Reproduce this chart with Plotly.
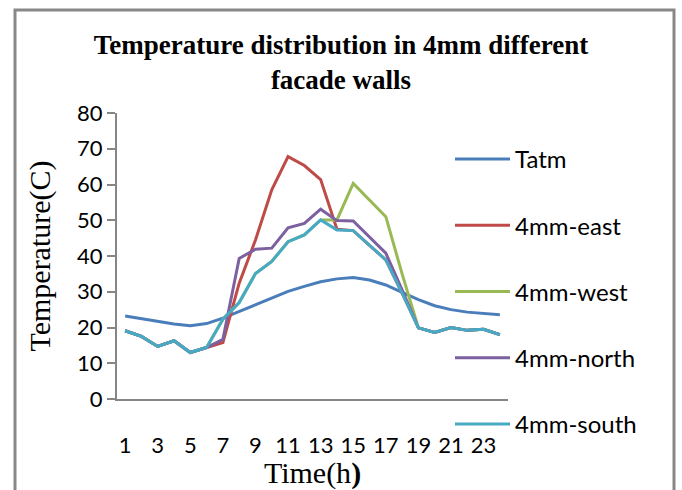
import plotly.graph_objects as go

hours = list(range(1, 25))
tatm = [23.2, 22.4, 21.7, 21.0, 20.5, 21.1, 22.6, 24.5, 26.5, 28.4, 30.1, 31.5,
        32.8, 33.6, 34.0, 33.3, 31.9, 29.8, 27.8, 26.1, 25.0, 24.3, 24.0, 23.6]
east = [19.1, 17.5, 14.7, 16.3, 13.0, 14.4, 15.8, 32.4, 44.5, 58.5, 67.8, 65.3,
        61.4, 47.5, 47.1, 43.0, 38.9, 29.6, 19.9, 18.6, 20.0, 19.2, 19.5, 18.0]
west = [19.1, 17.5, 14.7, 16.3, 13.0, 14.4, 22.3, 27.0, 35.1, 38.5, 44.0, 45.9,
        50.1, 50.1, 60.3, 55.7, 51.0, 35.0, 19.9, 18.6, 20.0, 19.2, 19.5, 18.0]
north = [19.1, 17.5, 14.7, 16.3, 13.0, 14.4, 16.7, 39.3, 41.9, 42.2, 47.9, 49.1,
         53.1, 49.9, 49.8, 45.2, 40.8, 30.5, 19.9, 18.6, 20.0, 19.2, 19.5, 18.0]
south = [19.1, 17.5, 14.7, 16.3, 13.0, 14.4, 22.3, 27.0, 35.1, 38.5, 44.0, 45.9,
         50.1, 47.3, 47.1, 43.0, 38.9, 29.6, 19.9, 18.6, 20.0, 19.2, 19.5, 18.0]

series_names = ["Tatm", "4mm-east", "4mm-west", "4mm-north", "4mm-south"]
series_values = [tatm, east, west, north, south]
colors = ["#4A7EBB", "#BE4B48", "#98B954", "#7D60A0", "#46AAC5"]
x_tick_vals = list(range(1, 25, 2))
y_tick_vals = list(range(0, 90, 10))

W, H = 682, 490
L, R, T, B = 117, 508, 113, 399  # plot area in pixels


def px(x):
    return (x - L) / (R - L)


def py(y):
    return (B - y) / (B - T)


fig = go.Figure()
for i, (name, vals, c) in enumerate(zip(series_names, series_values, colors)):
    fig.add_trace(go.Scatter(x=hours, y=vals, mode="lines", name=name,
                             line=dict(color=c, width=3), legendgroup=str(i)))

fig.update_layout(
    width=W, height=H,
    margin=dict(l=L, r=W - R, t=T, b=H - B, autoexpand=False),
    paper_bgcolor="white", plot_bgcolor="white",
    font=dict(family="Lato", color="black"),
    title=dict(text="Temperature distribution in 4mm different<br>facade walls",
               x=0.5, xref="container", xanchor="center",
               y=1 - 54 / H, yanchor="middle",
               font=dict(family="Liberation Serif", size=27, color="black",
                         weight="bold")),
    legend=dict(x=(450) / W, y=1 - 137 / H, xref="container", yref="container",
                xanchor="left", yanchor="top", maxheight=460, itemwidth=55,
                font=dict(family="Lato", size=24, color="black"),
                tracegroupgap=32, bgcolor="rgba(0,0,0,0)"),
    xaxis=dict(range=[0.5, 24.5], tickmode="array", tickvals=x_tick_vals,
               ticktext=[str(v) for v in x_tick_vals], showgrid=False,
               zeroline=False, showline=True, linecolor="#868686", linewidth=2,
               ticks="", ticklabelstandoff=26,
               tickfont=dict(family="Lato", size=22, color="black"),
               title=dict(text="Time(h<b>)</b>", standoff=17,
                          font=dict(family="Liberation Serif", size=30,
                                    color="black"))),
    yaxis=dict(range=[0, 80], tickmode="array", tickvals=y_tick_vals,
               showgrid=False, zeroline=False, showline=True,
               linecolor="#868686", linewidth=2, ticks="outside", ticklen=8,
               tickcolor="#868686", tickwidth=2,
               tickfont=dict(family="Lato", size=22, color="black"),
               title=dict(text="Temperature(C)", standoff=18,
                          font=dict(family="Liberation Serif", size=30,
                                    color="black"))),
    shapes=[dict(type="rect", xref="paper", yref="paper",
                 x0=px(15), x1=px(674), y0=py(520), y1=py(10),
                 line=dict(color="#888888", width=3), layer="below")],
)

fig.write_html("out.html")
